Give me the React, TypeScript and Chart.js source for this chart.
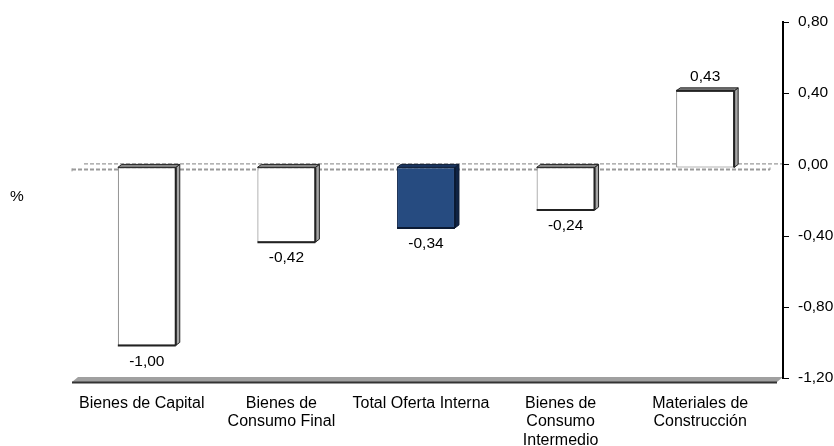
import React, { useEffect, useRef } from "react";
import { Chart, registerables } from "chart.js";

Chart.register(...registerables);

const categories: string[][] = [
  ["Bienes de Capital"],
  ["Bienes de", "Consumo Final"],
  ["Total Oferta Interna"],
  ["Bienes de", "Consumo", "Intermedio"],
  ["Materiales de", "Construcción"],
];
const values: number[] = [-1.0, -0.42, -0.34, -0.24, 0.43];
const yTicks: number[] = [-1.2, -0.8, -0.4, 0, 0.4, 0.8];
const highlightIndex = 2;

const FONT = "'Liberation Sans', Arial, sans-serif";
const fmt = (v: number) => v.toFixed(2).replace(".", ",");

const frontColors = values.map((_, i) => (i === highlightIndex ? "#264b80" : "#ffffff"));
const sideColors = values.map((_, i) => (i === highlightIndex ? "#0f2344" : "#a6a6a6"));
const topColors = values.map((_, i) => (i === highlightIndex ? "#1a3560" : "#8a8a8a"));
const edgeColors = values.map((_, i) => (i === highlightIndex ? "#0b1a33" : "#222222"));
const borderColors = values.map((_, i) => (i === highlightIndex ? "#12284d" : "#6a6a6a"));

const DX = 4;
const DY = 3;

const poly = (ctx: CanvasRenderingContext2D, pts: number[][]) => {
  ctx.beginPath();
  ctx.moveTo(pts[0][0], pts[0][1]);
  for (let i = 1; i < pts.length; i++) ctx.lineTo(pts[i][0], pts[i][1]);
  ctx.closePath();
};
const line = (ctx: CanvasRenderingContext2D, x1: number, y1: number, x2: number, y2: number) => {
  ctx.beginPath();
  ctx.moveTo(x1, y1);
  ctx.lineTo(x2, y2);
  ctx.stroke();
};

const threeD = {
  id: "threeD",
  beforeDatasetsDraw(chart: any) {
    const { ctx, chartArea: ca, scales } = chart;
    const y = scales.y;
    const z = y.getPixelForValue(0);
    const bot = y.getPixelForValue(yTicks[0]);
    const top = y.getPixelForValue(yTicks[yTicks.length - 1]);
    const axisX = ca.right + 8;
    ctx.save();
    // zero lines (back wall and front)
    ctx.strokeStyle = "#9a9a9a";
    ctx.setLineDash([4, 2]);
    ctx.lineWidth = 1.3;
    line(ctx, ca.left + 7, z - 3.5, axisX, z - 3.5);
    ctx.lineWidth = 2;
    line(ctx, ca.left - 5, z + 2, ca.right - 5, z + 2);
    ctx.setLineDash([]);
    ctx.lineWidth = 1;
    line(ctx, ca.left - 5, z + 1, ca.left - 5, z + 4);
    line(ctx, ca.right - 5, z + 2.5, ca.right - 5, z);
    // floor
    ctx.fillStyle = "#a0a0a0";
    poly(ctx, [
      [ca.left + 1, bot - 4],
      [axisX, bot - 4],
      [ca.right + 2, bot + 1],
      [ca.left - 5, bot + 1],
    ]);
    ctx.fill();
    ctx.strokeStyle = "#333";
    ctx.lineWidth = 2;
    line(ctx, ca.left - 5, bot + 1.5, ca.right + 2, bot + 1.5);
    // axis
    ctx.strokeStyle = "#000";
    ctx.lineWidth = 2;
    line(ctx, axisX, top - 4, axisX, bot - 2);
    ctx.lineWidth = 1;
    for (const t of yTicks) {
      const p = Math.round(y.getPixelForValue(t) - DY) + 0.5;
      line(ctx, axisX, p, axisX + 6, p);
    }
    // % label
    ctx.fillStyle = "#000";
    ctx.font = `15.5px ${FONT}`;
    ctx.textAlign = "center";
    ctx.textBaseline = "middle";
    ctx.fillText("%", 17, (top + bot) / 2 - 6);
    ctx.restore();
  },
  afterDatasetsDraw(chart: any) {
    const { ctx } = chart;
    const meta = chart.getDatasetMeta(0);
    ctx.save();
    meta.data.forEach((bar: any, i: number) => {
      const { x, y, base, width } = bar.getProps(["x", "y", "base", "width"], true);
      const left = x - width / 2;
      const right = x + width / 2;
      const yTop = Math.min(y, base);
      const yBot = Math.max(y, base);
      // side
      ctx.fillStyle = sideColors[i];
      poly(ctx, [
        [right, yTop],
        [right + DX, yTop - DY],
        [right + DX, yBot - DY],
        [right, yBot],
      ]);
      ctx.fill();
      ctx.strokeStyle = edgeColors[i];
      ctx.lineWidth = 1;
      ctx.stroke();
      // top
      ctx.fillStyle = topColors[i];
      poly(ctx, [
        [left, yTop],
        [left + DX, yTop - DY],
        [right + DX, yTop - DY],
        [right, yTop],
      ]);
      ctx.fill();
      ctx.stroke();
      // value-end edge and right edge
      ctx.lineWidth = 2;
      ctx.strokeStyle = edgeColors[i];
      const ey = values[i] < 0 ? yBot : yTop;
      line(ctx, left, ey, right, ey);
      line(ctx, right, yTop, right, yBot);
      // data label
      ctx.fillStyle = "#000";
      ctx.font = `15.5px ${FONT}`;
      ctx.textAlign = "center";
      ctx.textBaseline = "middle";
      ctx.fillText(fmt(values[i]), x, values[i] < 0 ? yBot + 16 : yTop - 14);
    });
    ctx.restore();
  },
};

export default function App() {
  const ref = useRef<HTMLCanvasElement | null>(null);
  useEffect(() => {
    if (!ref.current) return;
    const chart = new Chart(ref.current, {
      type: "bar",
      data: {
        labels: categories,
        datasets: [
          {
            data: values,
            backgroundColor: frontColors,
            borderColor: borderColors,
            borderWidth: 1,
            borderSkipped: false,
            barPercentage: 0.415,
            categoryPercentage: 1,
          },
        ],
      },
      options: {
        animation: false,
        responsive: true,
        maintainAspectRatio: false,
        layout: { padding: { left: 77, top: 25, right: 0, bottom: 0 } },
        plugins: { legend: { display: false }, tooltip: { enabled: false } },
        scales: {
          x: {
            grid: { display: false, drawTicks: false },
            border: { display: false },
            ticks: {
              color: "#000",
              font: { family: FONT, size: 16, lineHeight: 1.16 },
              padding: 13,
              labelOffset: -5,
              maxRotation: 0,
              autoSkip: false,
            },
            afterFit: (s: any) => {
              s.height = 65;
            },
          },
          y: {
            position: "right",
            min: yTicks[0],
            max: yTicks[yTicks.length - 1],
            grid: { display: false, drawTicks: false },
            border: { display: false },
            ticks: {
              stepSize: 0.4,
              color: "#000",
              font: { family: FONT, size: 15.5 },
              padding: 23,
              labelOffset: -3,
              callback: (v: any) => fmt(Number(v)),
            },
            afterFit: (s: any) => {
              s.width = 59;
              s.paddingTop = 0;
              s.paddingBottom = 0;
            },
          },
        },
      },
      plugins: [threeD],
    });
    return () => chart.destroy();
  }, []);
  return (
    <div style={{ position: "absolute", left: 0, top: 0, width: 834, height: 446, background: "#fff" }}>
      <canvas ref={ref} style={{ display: "block" }} />
    </div>
  );
}
